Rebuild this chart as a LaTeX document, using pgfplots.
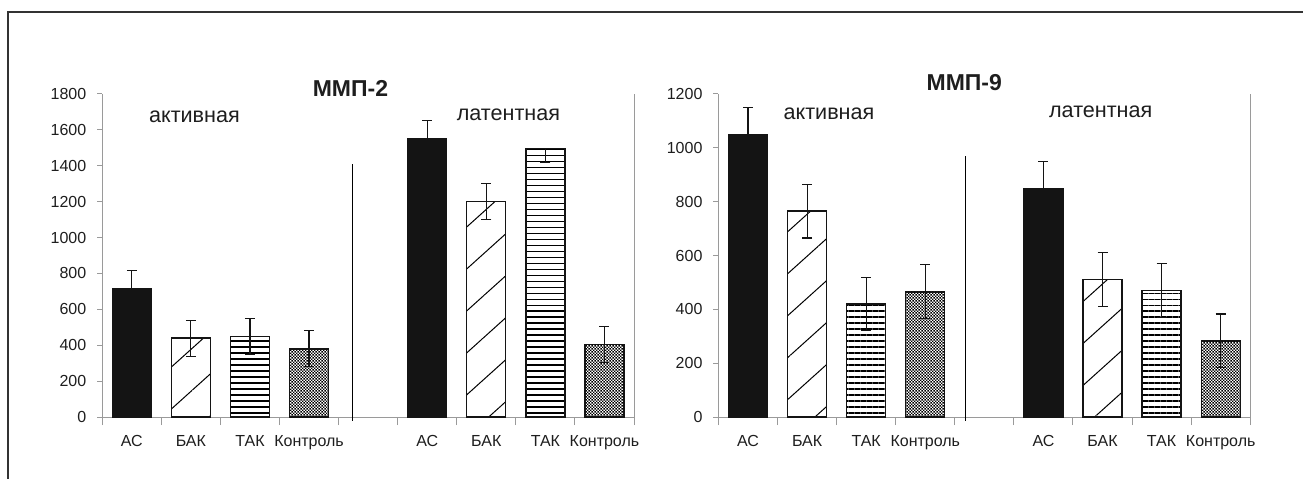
\documentclass[border=0pt]{standalone}
\usepackage{pgfplots}
\pgfplotsset{compat=1.18}
\usepackage{fontspec}
\setmainfont{Liberation Sans}
\usetikzlibrary{patterns.meta}

\definecolor{axisgray}{HTML}{9A9A9A}
\definecolor{barblack}{HTML}{141414}
\definecolor{ink}{HTML}{1E1E1E}

% fine checker fill for the control group
\tikzdeclarepattern{
  name=checker,
  type=uncolored,
  bounding box={(0,0) and (1.5pt,1.5pt)},
  tile size={(1.5pt,1.5pt)},
  code={
    \fill (0,0) rectangle (0.75pt,0.75pt);
    \fill (0.75pt,0.75pt) rectangle (1.5pt,1.5pt);
  }
}

\tikzset{
  grouplabel/.style={font=\fontsize{10.8}{12}\selectfont, text=ink},
  paneltitle/.style={font=\fontsize{11.5}{13}\selectfont\bfseries, text=ink},
}

\pgfplotsset{
  mmp/.style={
    scale only axis, width=266pt, height=161.65pt,
    xmin=-0.5, xmax=8.5, ymin=0,
    axis x line*=bottom, axis y line*=left,
    axis line style={axisgray, line width=0.5pt},
    tick align=outside,
    xtick={0,1,2,3,5,6,7,8},
    xticklabels={АС,БАК,ТАК,Контроль,АС,БАК,ТАК,Контроль},
    major x tick style={draw=none},
    minor xtick={-0.5,0.5,...,8.5},
    minor x tick style={axisgray, line width=0.5pt},
    minor tick length=4pt,
    major tick length=2.5pt,
    y tick style={axisgray, line width=0.5pt},
    ticklabel style={font=\fontsize{8}{9}\selectfont, text=ink},
    xticklabel style={yshift=-3pt},
    yticklabel style={xshift=-2pt},
    /pgf/number format/assume math mode=true,
    /pgf/number format/1000 sep={},
    clip=false,
  },
  barbase/.style={ybar, bar width=0.66, bar shift=0pt, draw=barblack,
    line width=0.65pt, mark=none,
    error bars/y dir=both, error bars/y explicit,
    error bars/error bar style={barblack, line width=0.55pt},
    error bars/error mark options={rotate=90, barblack, mark size=2.5pt, line width=0.55pt}},
  grpAC/.style={barbase, fill=barblack},
  grpBAK/.style={barbase, fill=white, postaction={pattern={Lines[angle=42, distance=15.6pt, line width=0.5pt]}}},
  grpTAK/.style={barbase, fill=white, postaction={pattern={Lines[angle=0, distance=3pt, line width=0.95pt]}}},
  grpCTRL/.style={barbase, fill=white, postaction={pattern=checker}},
}

\begin{document}
\begin{tikzpicture}
\path (0,0) rectangle (652pt,239.5pt);
\draw[line width=0.6pt, black!80] (4pt,0) -- (4pt,233.5pt) -- (652pt,233.5pt);

% MMP-2
\begin{axis}[mmp, at={(51.15pt,30.85pt)}, anchor=south west,
  ymax=1800, ytick={0,200,...,1800}]
\addplot[grpAC] coordinates {(0,715) +- (0,100) (5,1550) +- (0,100)};
\addplot[grpBAK] coordinates {(1,440) +- (0,100) (6,1200) +- (0,100)};
\addplot[grpTAK] coordinates {(2,450) +- (0,100) (7,1495) += (0,0) -= (0,75)};
\addplot[grpCTRL] coordinates {(3,380) +- (0,100) (8,405) +- (0,100)};
\draw[black, line width=0.6pt] (axis cs:3.73,-20) -- (axis cs:3.73,1410);
\draw[axisgray, line width=0.5pt] (axis cs:8.5,0) -- (axis cs:8.5,1800);
\node[paneltitle] at (axis cs:3.7,1833) {ММП-2};
\node[grouplabel] at (axis cs:1.06,1674) {активная};
\node[grouplabel] at (axis cs:6.375,1683) {латентная};
\end{axis}

% MMP-9
\begin{axis}[mmp, at={(359.4pt,30.85pt)}, anchor=south west,
  ymax=1200, ytick={0,200,...,1200}]
\addplot[grpAC] coordinates {(0,1050) +- (0,100) (5,850) +- (0,100)};
\addplot[grpBAK] coordinates {(1,765) +- (0,100) (6,510) +- (0,100)};
\addplot[grpTAK] coordinates {(2,420) +- (0,100) (7,470) +- (0,100)};
\addplot[grpCTRL] coordinates {(3,465) +- (0,100) (8,283) +- (0,100)};
\draw[black, line width=0.6pt] (axis cs:3.68,-13) -- (axis cs:3.68,970);
\draw[axisgray, line width=0.5pt] (axis cs:8.5,0) -- (axis cs:8.5,1200);
\node[paneltitle] at (axis cs:3.66,1241) {ММП-9};
\node[grouplabel] at (axis cs:1.37,1128) {активная};
\node[grouplabel] at (axis cs:5.97,1135) {латентная};
\end{axis}
\end{tikzpicture}
\end{document}
